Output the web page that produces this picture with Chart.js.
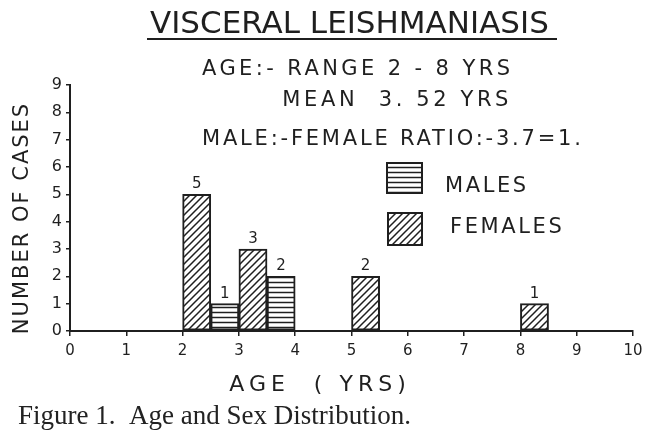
<!DOCTYPE html>
<html>
<head>
<meta charset="utf-8">
<script src="https://cdn.jsdelivr.net/npm/chart.js@4.4.0/dist/chart.umd.min.js"></script>
<style>
  html, body { margin: 0; padding: 0; background: #fff; }
</style>
</head>
<body>
<canvas id="myChart" width="650" height="434"></canvas>
<script>
// ages (years) and number of cases per sex
var ages = [2, 3, 5, 8];
var femaleCases = [5, 3, 2, 1];
var maleCases = [1, 2, null, null];
var xTickValues = [0, 1, 2, 3, 4, 5, 6, 7, 8, 9, 10];
var yTickValues = [0, 1, 2, 3, 4, 5, 6, 7, 8, 9];

var ink = '#1f1f1f';
var hand = '"DejaVu Sans", sans-serif';

var canvas = document.getElementById('myChart');
var ctx = canvas.getContext('2d');

// hatch fills like the hand-drawn original
function hatch(kind) {
  var s = kind === 'diag' ? 7 : 5;
  var c = document.createElement('canvas');
  c.width = s; c.height = s;
  var g = c.getContext('2d');
  g.fillStyle = '#fff';
  g.fillRect(0, 0, s, s);
  g.strokeStyle = ink;
  g.lineWidth = 1.5;
  g.beginPath();
  if (kind === 'diag') {
    g.moveTo(-1, s + 1); g.lineTo(s + 1, -1);
    g.moveTo(-1, 1); g.lineTo(1, -1);
    g.moveTo(s - 1, s + 1); g.lineTo(s + 1, s - 1);
  } else {
    g.moveTo(0, s / 2); g.lineTo(s, s / 2);
  }
  g.stroke();
  return ctx.createPattern(c, 'repeat');
}

// each age bin: female half then male half
function points(values) {
  return ages.map(function (a, i) { return { x: a + 0.5, y: values[i] }; });
}

function spaced(c, text, x, y, spacing, align) {
  c.letterSpacing = spacing + 'px';
  c.textAlign = align || 'left';
  c.fillText(text, x, y);
  c.letterSpacing = '0px';
}

// titles, legend, axis names and caption
var annotations = {
  id: 'annotations',
  afterDraw: function (chart) {
    var c = chart.ctx;
    c.save();
    c.fillStyle = ink;
    c.strokeStyle = ink;
    c.textBaseline = 'alphabetic';

    c.font = '31px ' + hand;
    spaced(c, 'VISCERAL LEISHMANIASIS', 150, 33, 0);
    c.lineWidth = 2;
    c.beginPath(); c.moveTo(147, 39); c.lineTo(557, 39); c.stroke();

    c.font = '21px ' + hand;
    spaced(c, 'AGE:- RANGE 2 - 8 YRS', 202, 75, 3.4);
    spaced(c, 'MEAN  3. 52 YRS', 512, 106, 3.6, 'right');
    spaced(c, 'MALE:-FEMALE RATIO:-3.7=1.', 202, 145, 2.8);

    // legend from the datasets
    var boxes = [[387, 163, 35, 30], [388, 213, 34, 32]];
    var textPos = [[445, 192], [450, 233]];
    var order = [1, 0];
    order.forEach(function (di, k) {
      var ds = chart.data.datasets[di];
      var b = boxes[k];
      c.fillStyle = ds.backgroundColor;
      c.fillRect(b[0], b[1], b[2], b[3]);
      c.lineWidth = 2;
      c.strokeRect(b[0], b[1], b[2], b[3]);
      c.fillStyle = ink;
      c.font = '21px ' + hand;
      spaced(c, ds.label, textPos[k][0], textPos[k][1], 2.6);
    });

    // axis names
    c.font = '22px ' + hand;
    spaced(c, 'AGE  ( YRS)', 320, 391, 5, 'center');
    c.save();
    c.translate(28, 218);
    c.rotate(-Math.PI / 2);
    c.font = '21px ' + hand;
    spaced(c, 'NUMBER OF CASES', 0, 0, 2, 'center');
    c.restore();

    c.font = '27px "Liberation Serif", serif';
    c.fillStyle = '#222';
    spaced(c, 'Figure 1.  Age and Sex Distribution.', 18, 424, 0);
    c.restore();
  }
};

// counts above the bars
var valueLabels = {
  id: 'valueLabels',
  afterDatasetsDraw: function (chart) {
    var c = chart.ctx;
    c.save();
    c.fillStyle = ink;
    c.font = '15px ' + hand;
    c.textAlign = 'center';
    c.textBaseline = 'alphabetic';
    chart.data.datasets.forEach(function (ds, i) {
      chart.getDatasetMeta(i).data.forEach(function (bar, j) {
        var v = ds.data[j].y;
        if (v === null || v === undefined) return;
        c.fillText(String(v), bar.x, bar.y - 6);
      });
    });
    c.restore();
  }
};

var chart = new Chart(ctx, {
  type: 'bar',
  data: {
    datasets: [{
      label: 'FEMALES',
      data: points(femaleCases),
      backgroundColor: hatch('diag'),
      borderColor: ink,
      borderWidth: 2,
      borderSkipped: false
    }, {
      label: 'MALES',
      data: points(maleCases),
      backgroundColor: hatch('horiz'),
      borderColor: ink,
      borderWidth: 2,
      borderSkipped: false
    }]
  },
  options: {
    responsive: false,
    animation: false,
    layout: { padding: { top: 85, right: 17, left: 0, bottom: 0 } },
    datasets: { bar: { categoryPercentage: 1, barPercentage: 1 } },
    plugins: {
      legend: { display: false },
      tooltip: { enabled: false }
    },
    scales: {
      x: {
        type: 'linear',
        offset: false,
        min: 0,
        max: 10,
        afterFit: function (s) { s.height = 103; },
        afterBuildTicks: function (s) { s.ticks = xTickValues.map(function (v) { return { value: v }; }); },
        grid: { offset: false, drawOnChartArea: false, tickLength: 5, color: ink, lineWidth: 1.5 },
        border: { color: ink, width: 2 },
        ticks: { color: ink, padding: 6, font: { family: hand, size: 15 } }
      },
      y: {
        min: 0,
        max: 9,
        afterFit: function (s) { s.width = 70; },
        afterBuildTicks: function (s) { s.ticks = yTickValues.map(function (v) { return { value: v }; }); },
        grid: { drawOnChartArea: false, tickLength: 4, color: ink, lineWidth: 1.5 },
        border: { color: ink, width: 2 },
        ticks: { color: ink, padding: 4, font: { family: hand, size: 16 } }
      }
    }
  },
  plugins: [valueLabels, annotations]
});
</script>
</body>
</html>
